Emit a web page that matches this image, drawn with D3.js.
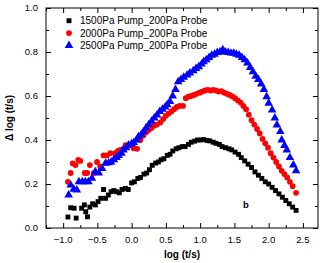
<!DOCTYPE html>
<html>
<head>
<meta charset="utf-8">
<script src="https://cdn.jsdelivr.net/npm/d3@7"></script>
<style>
  body { margin: 0; background: #fff; }
  svg { display: block; font-family: "Liberation Sans", Arial, sans-serif; }
</style>
</head>
<body>
<div id="chart"></div>
<script>
// series: [log(t/s), Δlog(t/s)]
const pump1500 = [
  [-0.93,0.05],[-0.89,0.092],[-0.84,0.09],[-0.81,0.045],[-0.73,0.09],[-0.69,0.105],[-0.67,0.074],
  [-0.645,0.051],[-0.61,0.095],[-0.57,0.11],[-0.53,0.105],[-0.49,0.12],[-0.45,0.135],[-0.41,0.175],
  [-0.38,0.135],[-0.34,0.15],[-0.3,0.165],[-0.26,0.17],[-0.22,0.165],[-0.18,0.16],[-0.14,0.175],
  [-0.09,0.18],[-0.05,0.175],[0.0,0.205],[0.04,0.21],[0.09,0.225],[0.13,0.23],[0.18,0.245],
  [0.22,0.25],[0.26,0.265],[0.3,0.285],[0.35,0.295],[0.39,0.3],[0.43,0.31],[0.47,0.315],
  [0.52,0.33],[0.56,0.335],[0.6,0.35],[0.65,0.36],[0.69,0.365],[0.74,0.37],[0.78,0.37],
  [0.83,0.38],[0.87,0.39],[0.92,0.395],[0.96,0.4],[1.01,0.4],[1.05,0.402],[1.1,0.398],
  [1.14,0.396],[1.19,0.39],[1.23,0.385],[1.28,0.38],[1.32,0.37],[1.37,0.365],[1.42,0.36],
  [1.46,0.355],[1.51,0.345],[1.56,0.335],[1.6,0.32],[1.65,0.305],[1.7,0.29],[1.75,0.275],
  [1.8,0.255],[1.85,0.24],[1.9,0.225],[1.95,0.21],[2.0,0.2],[2.05,0.185],[2.1,0.17],
  [2.15,0.155],[2.2,0.14],[2.25,0.125],[2.3,0.11],[2.35,0.095],[2.4,0.08]
];
const pump2000 = [
  [-0.93,0.21],[-0.89,0.25],[-0.86,0.294],[-0.82,0.286],[-0.78,0.31],[-0.75,0.305],[-0.685,0.25],
  [-0.65,0.25],[-0.61,0.286],[-0.55,0.25],[-0.505,0.3],[-0.46,0.28],[-0.41,0.33],[-0.36,0.33],
  [-0.31,0.34],[-0.24,0.34],[-0.2,0.35],[-0.165,0.355],[-0.12,0.36],[-0.09,0.377],[-0.02,0.377],
  [0.03,0.362],[0.08,0.36],[0.127,0.4],[0.17,0.42],[0.21,0.435],[0.25,0.445],[0.29,0.455],
  [0.33,0.465],[0.37,0.47],[0.42,0.48],[0.46,0.495],[0.5,0.51],[0.54,0.52],[0.58,0.53],
  [0.62,0.54],[0.66,0.55],[0.7,0.555],[0.75,0.555],[0.79,0.59],[0.83,0.597],[0.87,0.6],
  [0.91,0.605],[0.95,0.61],[0.99,0.615],[1.03,0.62],[1.07,0.625],[1.11,0.628],[1.15,0.625],
  [1.19,0.628],[1.23,0.625],[1.27,0.62],[1.31,0.622],[1.35,0.615],[1.39,0.61],[1.43,0.605],
  [1.47,0.598],[1.51,0.59],[1.55,0.58],[1.59,0.57],[1.63,0.555],[1.67,0.54],[1.71,0.515],
  [1.75,0.49],[1.79,0.47],[1.83,0.45],[1.87,0.43],[1.91,0.405],[1.95,0.385],[1.99,0.365],
  [2.03,0.34],[2.07,0.32],[2.11,0.3],[2.15,0.28],[2.19,0.26],[2.23,0.245],[2.27,0.23],
  [2.31,0.21],[2.35,0.19],[2.4,0.16]
];
const pump2500 = [
  [-0.92,0.15],[-0.89,0.195],[-0.845,0.176],[-0.8,0.173],[-0.77,0.21],[-0.72,0.21],[-0.675,0.21],
  [-0.63,0.21],[-0.58,0.226],[-0.53,0.256],[-0.48,0.25],[-0.43,0.27],[-0.38,0.294],[-0.335,0.296],
  [-0.3,0.3],[-0.26,0.31],[-0.22,0.32],[-0.19,0.33],[-0.15,0.34],[-0.12,0.355],[-0.08,0.365],
  [-0.045,0.377],[0.0,0.383],[0.03,0.388],[0.07,0.4],[0.1,0.415],[0.14,0.425],[0.175,0.438],
  [0.21,0.455],[0.25,0.47],[0.29,0.485],[0.33,0.5],[0.37,0.514],[0.41,0.53],[0.45,0.54],
  [0.49,0.55],[0.52,0.56],[0.56,0.575],[0.6,0.6],[0.64,0.63],[0.68,0.665],[0.72,0.675],
  [0.76,0.685],[0.81,0.695],[0.85,0.705],[0.9,0.715],[0.94,0.725],[0.98,0.733],[1.02,0.745],
  [1.05,0.756],[1.09,0.765],[1.13,0.775],[1.17,0.785],[1.21,0.79],[1.25,0.798],[1.29,0.8],
  [1.33,0.81],[1.37,0.8],[1.41,0.798],[1.45,0.795],[1.49,0.794],[1.53,0.79],[1.57,0.785],
  [1.61,0.775],[1.65,0.765],[1.69,0.75],[1.73,0.73],[1.77,0.71],[1.81,0.69],[1.85,0.675],
  [1.89,0.655],[1.93,0.63],[1.97,0.597],[2.0,0.567],[2.05,0.536],[2.09,0.5],[2.12,0.468],
  [2.17,0.438],[2.19,0.4],[2.23,0.375],[2.265,0.355],[2.31,0.32],[2.36,0.286],[2.4,0.26]
];
const seriesNames = ['1500Pa Pump_200Pa Probe', '2000Pa Pump_200Pa Probe', '2500Pa Pump_200Pa Probe'];
const xTicks = [-1.0, -0.5, 0.0, 0.5, 1.0, 1.5, 2.0, 2.5];
const yTicks = [0.0, 0.2, 0.4, 0.6, 0.8, 1.0];

const W = 320, H = 263;
const plot = { left: 46, right: 318, top: 8, bottom: 228 };

const svg = d3.select('#chart').append('svg').attr('width', W).attr('height', H);

const x = d3.scaleLinear().domain([-1.25, 2.72]).range([plot.left, plot.right]);
const y = d3.scaleLinear().domain([0, 1]).range([plot.bottom, plot.top]);

// ticks inward on all four sides, major + minor
const pw = plot.right - plot.left, ph = plot.bottom - plot.top;
const xMinor = d3.range(-1.25, 2.76, 0.25).filter(v => !xTicks.some(t => Math.abs(t - v) < 1e-6));
const yMinor = d3.range(0.1, 1.0, 0.2);

function tickAxis(axisFn, scale, major, minor, tx, ty) {
  svg.append('g').attr('transform', `translate(${tx},${ty})`)
    .call(axisFn(scale).tickValues(major).tickSize(-5).tickFormat(''))
    .call(g => g.select('.domain').remove());
  svg.append('g').attr('transform', `translate(${tx},${ty})`)
    .call(axisFn(scale).tickValues(minor).tickSize(-3).tickFormat(''))
    .call(g => g.select('.domain').remove());
}
tickAxis(d3.axisBottom, x, xTicks, xMinor, 0, plot.bottom);
tickAxis(d3.axisTop, x, xTicks, xMinor, 0, plot.top);
tickAxis(d3.axisLeft, y, yTicks, yMinor, plot.left, 0);
tickAxis(d3.axisRight, y, yTicks, yMinor, plot.right, 0);
svg.selectAll('.tick line').attr('stroke', '#000').attr('stroke-width', 1);

svg.append('rect')
  .attr('x', plot.left).attr('y', plot.top).attr('width', pw).attr('height', ph)
  .attr('fill', 'none').attr('stroke', '#000').attr('stroke-width', 1);

// tick labels
svg.append('g').selectAll('text').data(xTicks).join('text')
  .attr('x', d => x(d)).attr('y', plot.bottom + 15)
  .attr('text-anchor', 'middle').attr('font-size', 9.5).attr('fill', '#000')
  .text(d => d3.format('.1f')(d));
svg.append('g').selectAll('text').data(yTicks).join('text')
  .attr('x', plot.left - 8).attr('y', d => y(d)).attr('dy', '0.35em')
  .attr('text-anchor', 'end').attr('font-size', 9.5).attr('fill', '#000')
  .text(d => d3.format('.1f')(d));

// axis titles
svg.append('text')
  .attr('x', (plot.left + plot.right) / 2).attr('y', 258)
  .attr('text-anchor', 'middle').attr('font-size', 10).attr('font-weight', 'bold')
  .text('log (t/s)');
svg.append('text')
  .attr('transform', `translate(13,${(plot.top + plot.bottom) / 2}) rotate(-90)`)
  .attr('text-anchor', 'middle').attr('font-size', 10).attr('font-weight', 'bold')
  .text('\u0394 log (t/s)');

// markers
const symSquare = d3.symbol().type(d3.symbolSquare).size(24);
const symCircle = d3.symbol().type(d3.symbolCircle).size(26);
const symTri = d3.symbol().type(d3.symbolTriangle).size(32);
const series = [
  { data: pump1500, color: '#000000', sym: symSquare },
  { data: pump2000, color: '#ff0000', sym: symCircle },
  { data: pump2500, color: '#0000ff', sym: symTri },
];

series.forEach(s => {
  svg.append('g').selectAll('path').data(s.data).join('path')
    .attr('d', s.sym)
    .attr('transform', d => `translate(${x(d[0])},${y(d[1])})`)
    .attr('fill', s.color);
});

// legend
const legend = svg.append('g');
series.forEach((s, i) => {
  const ly = 20.7 + i * 12.4;
  legend.append('path').attr('d', s.sym).attr('fill', s.color)
    .attr('transform', `translate(69,${ly})`);
  legend.append('text').attr('x', 80).attr('y', ly).attr('dy', '0.35em')
    .attr('font-size', 10).attr('fill', '#000')
    .text(seriesNames[i]);
});

svg.append('text').attr('x', 246).attr('y', 205).attr('dy', '0.35em')
  .attr('text-anchor', 'middle').attr('font-size', 9.5).attr('font-weight', 'bold')
  .text('b');
</script>
</body>
</html>
